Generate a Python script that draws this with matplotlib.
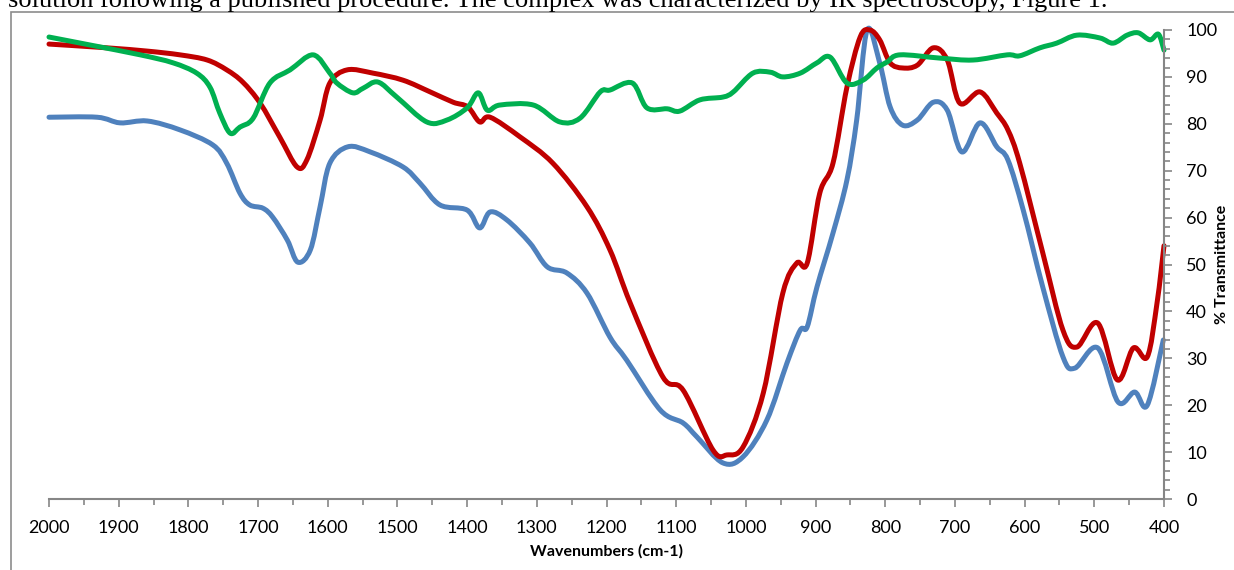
import numpy as np
import matplotlib
matplotlib.use("Agg")
import matplotlib.pyplot as plt
from matplotlib.patches import Rectangle, PathPatch
from matplotlib.path import Path
from matplotlib.ticker import MultipleLocator

# IR spectra, wavenumber (cm-1) vs % transmittance
wn_blue = [2000, 1931, 1898, 1859, 1812, 1765, 1745, 1726, 1712, 1693, 1679, 1658, 1643,
           1625, 1611, 1597, 1571, 1539, 1492, 1468, 1439, 1400, 1382, 1367, 1343, 1310,
           1285, 1257, 1228, 1195, 1171, 1123, 1090, 1070, 1033, 1004, 970, 941, 922, 912,
           898, 875, 855, 841, 826, 808, 793, 775, 754, 731, 711, 690, 664, 640, 624, 602,
           574, 545, 528, 495, 466, 442, 424, 401]
t_blue = [81.4, 81.4, 80.2, 80.6, 78.7, 75.5, 71.6, 65.2, 62.7, 62.0, 60.1, 55.2, 50.5,
          53.1, 62.3, 71.6, 75.1, 74.0, 70.8, 67.4, 62.7, 61.6, 57.8, 61.2, 59.5, 54.6,
          49.5, 48.2, 43.9, 34.5, 29.6, 19.0, 16.2, 13.2, 7.7, 9.0, 16.8, 29.0, 36.0, 36.7,
          45.2, 56.7, 68.0, 80.8, 100.0, 93.0, 83.6, 79.7, 80.8, 84.6, 82.9, 74.0, 80.2,
          75.1, 72.3, 61.6, 45.2, 30.3, 27.9, 32.2, 20.7, 22.8, 20.0, 33.9]

wn_red = [2000, 1917, 1859, 1812, 1773, 1745, 1722, 1697, 1669, 1644, 1630, 1611, 1597,
          1572, 1535, 1492, 1453, 1420, 1399, 1382, 1367, 1324, 1277, 1228, 1195, 1166,
          1119, 1090, 1047, 1027, 1004, 975, 947, 927, 912, 894, 875, 855, 836, 822, 808,
          793, 775, 754, 731, 711, 693, 664, 640, 624, 607, 574, 545, 525, 495, 467, 444,
          424, 410, 400]
t_red = [97.0, 96.2, 95.5, 94.7, 93.6, 91.5, 88.9, 84.4, 77.2, 70.8, 72.3, 80.8, 88.7,
         91.5, 90.8, 89.3, 86.8, 84.6, 83.6, 80.4, 81.4, 77.2, 71.6, 62.3, 53.1, 41.8,
         26.0, 23.2, 10.4, 9.4, 11.1, 22.6, 43.9, 50.3, 50.3, 65.2, 71.6, 87.8, 98.5,
         100.0, 97.9, 93.0, 91.9, 92.5, 96.2, 93.6, 84.4, 86.8, 82.3, 78.7, 71.6, 52.5,
         36.0, 32.4, 37.5, 25.4, 32.2, 30.3, 41.8, 54.0]

wn_green = [2000, 1941, 1869, 1822, 1788, 1769, 1755, 1740, 1726, 1707, 1683, 1654, 1621,
            1597, 1587, 1564, 1549, 1528, 1501, 1458, 1429, 1400, 1384, 1371, 1353, 1305,
            1267, 1238, 1209, 1195, 1163, 1142, 1113, 1095, 1066, 1033, 1018, 990, 965,
            947, 922, 898, 879, 855, 832, 812, 797, 779, 721, 674, 625, 607, 578, 554, 525,
            492, 473, 453, 437, 420, 408, 400]
t_green = [98.5, 96.8, 94.7, 93.0, 90.8, 87.8, 82.3, 78.0, 79.3, 81.2, 88.7, 91.5, 94.7,
           90.8, 88.7, 86.6, 87.6, 88.9, 85.7, 80.4, 80.8, 83.4, 86.6, 82.9, 84.0, 84.0,
           80.4, 81.2, 86.8, 87.2, 88.7, 83.4, 83.2, 82.7, 85.1, 85.7, 86.8, 90.8, 91.0,
           90.0, 90.8, 93.0, 94.2, 88.7, 89.3, 91.9, 93.2, 94.7, 94.0, 93.6, 94.7, 94.5,
           96.2, 97.2, 98.9, 98.3, 97.2, 98.9, 99.4, 97.9, 99.1, 95.7]


def smooth_path(x, y):
    # Catmull-Rom tangents turned into cubic Bezier segments (like a "smoothed line")
    p = np.column_stack([x, y]).astype(float)
    ext = np.vstack([p[0], p, p[-1]])
    verts = [p[0]]
    codes = [Path.MOVETO]
    for i in range(len(p) - 1):
        p0, p1, p2, p3 = ext[i], ext[i + 1], ext[i + 2], ext[i + 3]
        verts += [p1 + (p2 - p0) / 6, p2 - (p3 - p1) / 6, p2]
        codes += [Path.CURVE4] * 3
    return Path(verts, codes)


fig = plt.figure(figsize=(12.34, 5.70), dpi=100)
fig.patch.set_facecolor("white")

# chart frame (runs off the page on the right and bottom)
fig.patches.append(Rectangle((11 / 1234, -0.1), 1.2, (570 - 12) / 570 + 0.1,
                             transform=fig.transFigure, fill=False,
                             edgecolor="#8c8c8c", linewidth=1.2))

fig.text(8 / 1234, (570 - 7) / 570,
         "solution following a published procedure. The complex was characterized by IR spectroscopy, Figure 1.",
         family="Liberation Serif", fontsize=19, va="baseline", ha="left")

ax = fig.add_axes([49 / 1234, 71 / 570, 1115 / 1234, 469 / 570])
for wn, t, c in [(wn_blue, t_blue, "#4F81BD"),
                 (wn_red, t_red, "#C00000"),
                 (wn_green, t_green, "#00B050")]:
    ax.add_patch(PathPatch(smooth_path(wn, t), facecolor="none", edgecolor=c,
                           lw=3.6, joinstyle="round", capstyle="round", clip_on=False))

ax.set_xlim(2000, 400)
ax.set_ylim(0, 100)
ax.xaxis.set_major_locator(MultipleLocator(100))
ax.xaxis.set_minor_locator(MultipleLocator(50))
ax.yaxis.set_major_locator(MultipleLocator(10))
ax.yaxis.set_minor_locator(MultipleLocator(2))
ax.yaxis.tick_right()
ax.yaxis.set_label_position("right")

for s in ["top", "left"]:
    ax.spines[s].set_visible(False)
for s in ["bottom", "right"]:
    ax.spines[s].set_color("#868686")
    ax.spines[s].set_linewidth(1.5)

ax.tick_params(which="major", direction="out", length=6, width=1.2, color="#868686",
               labelsize=13)
ax.tick_params(which="minor", direction="out", length=4, width=1.2, color="#868686")
ax.tick_params(axis="x", pad=9)
ax.tick_params(axis="y", pad=10)
for lab in ax.get_xticklabels() + ax.get_yticklabels():
    lab.set_family("Lato")

ax.set_xlabel("Wavenumbers (cm-1)", family="Lato", fontweight="bold", fontsize=11.5,
              labelpad=6)
ax.set_ylabel("% Transmittance", family="Lato", fontweight="bold", fontsize=11.5,
              rotation=90, va="center", ha="center")
ax.yaxis.set_label_coords((1222 - 49) / 1115, 0.5)

fig.savefig("out.png", dpi=100)
